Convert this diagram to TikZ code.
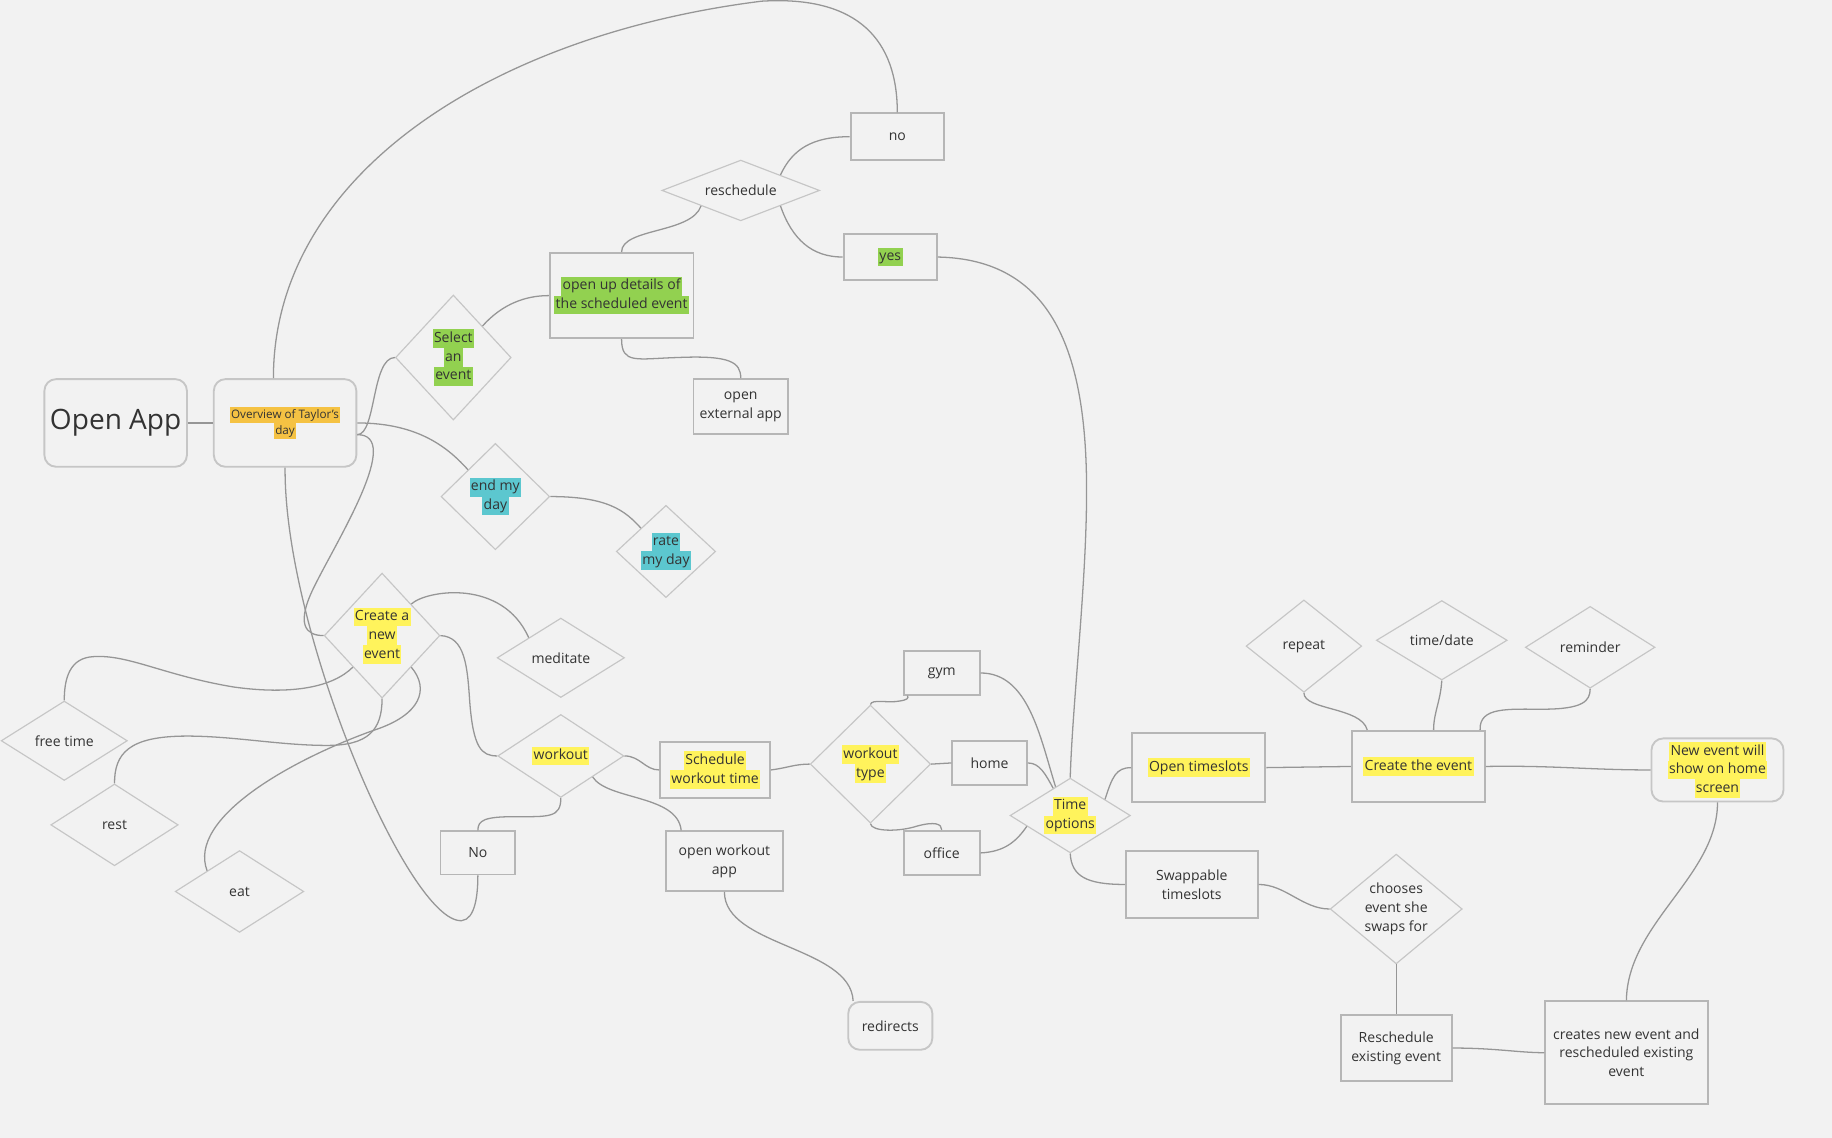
\documentclass[tikz,border=0pt]{standalone}
\usepackage{fontspec}
\setmainfont{Open Sans}
\usetikzlibrary{shapes.geometric}
\definecolor{bg}{HTML}{F2F2F2}
\definecolor{edge}{HTML}{969696}
\definecolor{bord}{HTML}{B6B6B6}
\definecolor{dbord}{HTML}{C6C6C6}
\definecolor{txt}{HTML}{333333}
\definecolor{hlY}{HTML}{FFF35C}
\definecolor{hlG}{HTML}{92D150}
\definecolor{hlT}{HTML}{5CC7CF}
\definecolor{hlO}{HTML}{F5C243}
\newcommand{\hlbox}[2]{{\setlength{\fboxsep}{0pt}\colorbox{#1}{\hspace{0.6pt}\strut#2\hspace{0.6pt}}}}
\tikzset{
  base/.style={text=txt, font=\fontsize{6}{8}\selectfont, align=center, inner sep=0pt},
  box/.style 2 args={base, draw=bord, line width=0.8pt, minimum width={#1*0.5pt}, minimum height={#2*0.5pt}},
  rbox/.style 2 args={box={#1}{#2}, draw=dbord, rounded corners=5pt},
  dia/.style n args={3}{base, shape=diamond, draw=dbord, line width=0.5pt, minimum width={#1*0.5pt}, minimum height={#2*0.5pt}, aspect=#3},
  conn/.style={draw=edge, line width=0.55pt},
}
\begin{document}
\begin{tikzpicture}[x=0.5pt,y=-0.5pt]
\fill[bg] (0,0) rectangle (1568,974);
\useasboundingbox (0,0) rectangle (1568,974);

% ---------- nodes ----------
\node[rbox={122}{75}, font=\fontsize{12}{15}\selectfont] (open) at (99,362) {Open App};
\node[rbox={122}{75}, font=\fontsize{5}{7}\selectfont] (ovw) at (244,362) {\hlbox{hlO}{Overview of Taylor's}\\\hlbox{hlO}{day}};
\node[dia={99}{107}{0.93}] (sel) at (388,306) {\hlbox{hlG}{Select}\\\hlbox{hlG}{an}\\\hlbox{hlG}{event}};
\node[box={123}{73}] (det) at (532,253) {\hlbox{hlG}{open up details of}\\\hlbox{hlG}{the scheduled event}};
\node[dia={135}{52}{2.6}] (res) at (634,163) {reschedule};
\node[box={80}{40}] (no) at (768,117) {no};
\node[box={80}{40}] (yes) at (762,220) {\hlbox{hlG}{yes}};
\node[box={81}{47}] (ext) at (634,348) {open\\external app};
\node[dia={93}{91}{1.02}] (end) at (424,425) {\hlbox{hlT}{end my}\\\hlbox{hlT}{day}};
\node[dia={85}{79}{1.08}] (rate) at (570,472) {\hlbox{hlT}{rate}\\\hlbox{hlT}{my day}};
\node[dia={99}{107}{0.93}] (cre) at (327,544) {\hlbox{hlY}{Create a}\\\hlbox{hlY}{new}\\\hlbox{hlY}{event}};
\node[dia={109}{68}{1.6}] (med) at (480,563) {meditate};
\node[dia={108}{68}{1.6}] (free) at (55,634) {free time};
\node[dia={109}{70}{1.56}] (rest) at (98,706) {rest};
\node[dia={110}{70}{1.57}] (eat) at (205,763) {eat};
\node[dia={108}{71}{1.52}] (wo) at (480,647) {\hlbox{hlY}{workout}};
\node[box={64}{37}] (No) at (409,730) {No};
\node[box={94}{48}] (swt) at (612,659) {\hlbox{hlY}{Schedule}\\\hlbox{hlY}{workout time}};
\node[box={100}{51}] (owa) at (620,737) {open workout\\app};
\node[rbox={72}{41}] (redir) at (762,878) {redirects};
\node[dia={103}{101}{1.02}] (wt) at (745,654) {\hlbox{hlY}{workout}\\\hlbox{hlY}{type}};
\node[box={65}{37}] (gym) at (806,576) {gym};
\node[box={64}{37}] (home) at (847,653) {home};
\node[box={65}{38}] (office) at (806,730) {office};
\node[dia={103}{64}{1.6}] (tim) at (916,698) {\hlbox{hlY}{Time}\\\hlbox{hlY}{options}};
\node[box={114}{59}] (ots) at (1026,657) {\hlbox{hlY}{Open timeslots}};
\node[box={113}{57}] (swp) at (1020,757) {Swappable\\timeslots};
\node[box={114}{61}] (cte) at (1214,656) {\hlbox{hlY}{Create the event}};
\node[dia={99}{79}{1.25}] (rep) at (1116,553) {repeat};
\node[dia={112}{68}{1.65}] (td) at (1234,548) {time/date};
\node[dia={111}{70}{1.58}] (rem) at (1361,554) {reminder};
\node[rbox={113}{54}] (new) at (1470,659) {\hlbox{hlY}{New event will}\\\hlbox{hlY}{show on home}\\\hlbox{hlY}{screen}};
\node[dia={113}{94}{1.2}] (cho) at (1195,778) {chooses\\event she\\swaps for};
\node[box={95}{56}] (rse) at (1195,897) {Reschedule\\existing event};
\node[box={139}{88}] (cne) at (1392,901) {creates new event and\\rescheduled existing\\event};

% ---------- connectors ----------
\draw[conn] (open.east) -- (ovw.west);
\draw[conn] ([xshift=-5pt]ovw.north) .. controls (234,150) and (420,30) .. (652,1) .. controls (735,-4) and (768,35) .. (no.north);
\draw[conn] (ovw.south) .. controls (243,540) and (350,790) .. (395,788) .. controls (407,787) and (409,765) .. (No.south);
\draw[conn] ([yshift=-5pt]ovw.east) .. controls (322,372) and (318,306) .. (sel.west);
\draw[conn] (ovw.east) .. controls (360,362) and (385,385) .. (end.north west);
\draw[conn] ([yshift=-5pt]ovw.east) .. controls (345,372) and (290,460) .. (270,500) .. controls (252,535) and (262,544) .. (cre.west);
\draw[conn] (sel.north east) .. controls (430,260) and (450,253) .. (det.west);
\draw[conn] (det.north) .. controls (532,195) and (592,200) .. (res.south west);
\draw[conn] (det.south) .. controls (532,312) and (545,307) .. (580,306) .. controls (625,304) and (634,310) .. (ext.north);
\draw[conn] (res.north east) .. controls (678,128) and (695,117) .. (no.west);
\draw[conn] (res.south east) .. controls (678,205) and (695,220) .. (yes.west);
\draw[conn] (yes.east) .. controls (900,222) and (930,300) .. (930,420) .. controls (930,500) and (918,600) .. (tim.north);
\draw[conn] (end.east) .. controls (520,425) and (535,437) .. (rate.north west);
\draw[conn] (cre.north east) .. controls (365,505) and (430,495) .. (med.north west);
\draw[conn] (cre.east) .. controls (398,545) and (400,570) .. (402,600) .. controls (405,640) and (412,647) .. (wo.west);
\draw[conn] (cre.south west) .. controls (285,588) and (250,595) .. (200,588) .. controls (140,578) and (110,560) .. (80,562) .. controls (60,563) and (55,580) .. (free.north);
\draw[conn] (cre.south) .. controls (327,625) and (315,638) .. (280,638) .. controls (240,638) and (200,630) .. (160,630) .. controls (110,630) and (98,645) .. (rest.north);
\draw[conn] (cre.south east) .. controls (368,590) and (360,612) .. (320,625) .. controls (250,650) and (160,700) .. (eat.north west);
\draw[conn] (wo.east) .. controls (548,647) and (552,659) .. (swt.west);
\draw[conn] (wo.south) .. controls (480,700) and (470,699) .. (440,699) .. controls (415,699) and (409,702) .. (No.north);
\draw[conn] (wo.south east) .. controls (520,685) and (580,680) .. ([xshift=-18.5pt]owa.north);
\draw[conn] (swt.east) .. controls (675,657) and (680,654) .. (wt.west);
\draw[conn] (owa.south) .. controls (620,810) and (728,810) .. ([xshift=2.5pt]redir.north west);
\draw[conn] (wt.north) .. controls (746,598) and (760,602) .. (770,600) .. controls (776,599) and (778,598) .. ([xshift=2pt]gym.south west);
\draw[conn] (wt.east) -- (home.west);
\draw[conn] (wt.south) .. controls (746,712) and (770,712) .. (785,707) .. controls (800,703) and (806,705) .. (office.north);
\draw[conn] (gym.east) .. controls (880,576) and (890,630) .. (tim.117);
\draw[conn] (home.east) .. controls (890,653) and (895,663) .. (tim.122);
\draw[conn] (office.east) .. controls (860,729) and (870,720) .. (tim.194);
\draw[conn] (tim.25) .. controls (952,665) and (955,657) .. (ots.west);
\draw[conn] (tim.south) .. controls (917,750) and (930,757) .. (swp.west);
\draw[conn] (ots.east) -- (cte.west);
\draw[conn] (rep.south) .. controls (1116,608) and (1165,605) .. ([xshift=7pt]cte.north west);
\draw[conn] (td.south) .. controls (1233,600) and (1227,610) .. ([xshift=6.5pt]cte.north);
\draw[conn] ([xshift=-2.5pt]cte.north east) .. controls (1266,605) and (1290,607) .. (1320,607) .. controls (1355,607) and (1361,600) .. (rem.south);
\draw[conn] (cte.east) .. controls (1330,655) and (1360,659) .. (new.west);
\draw[conn] (new.south) .. controls (1470,750) and (1393,790) .. (cne.north);
\draw[conn] (swp.east) .. controls (1100,757) and (1115,778) .. (cho.west);
\draw[conn] (cho.south) -- (rse.north);
\draw[conn] (rse.east) .. controls (1280,897) and (1300,901) .. (cne.west);
\end{tikzpicture}
\end{document}
